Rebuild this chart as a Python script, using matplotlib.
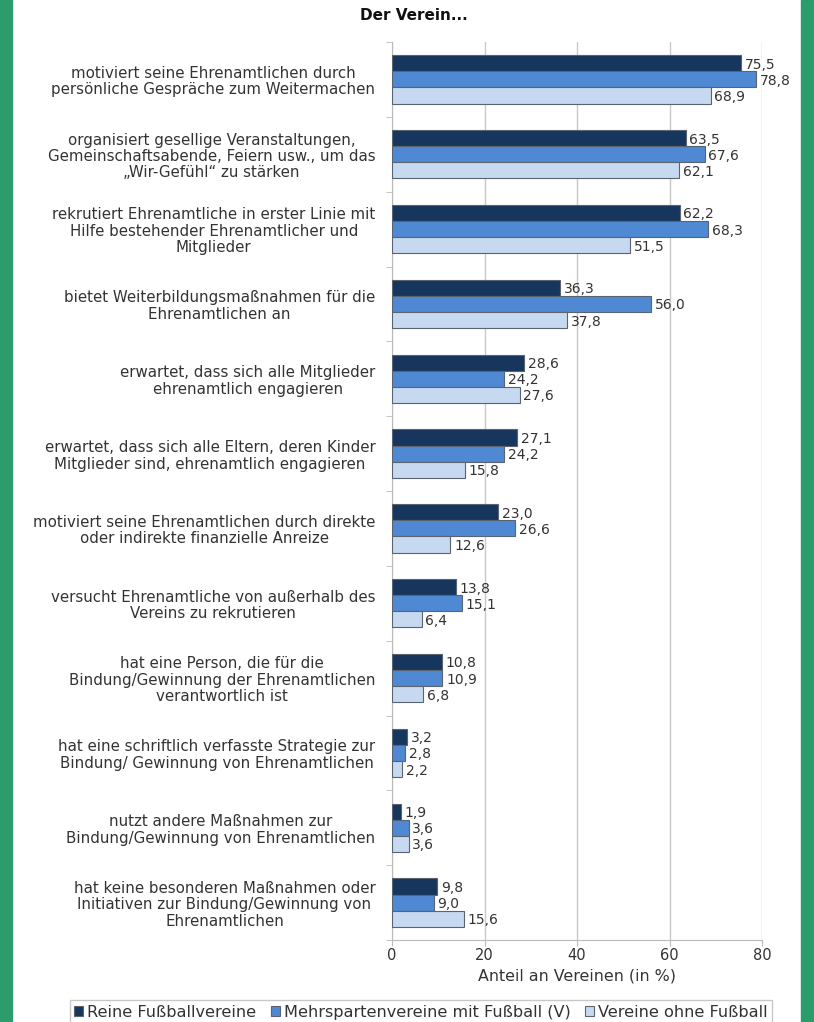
import numpy as np
import matplotlib.pyplot as plt
from matplotlib.patches import Rectangle

plt.rcParams['font.family'] = ['DejaVu Sans']

categories = [
    'motiviert seine Ehrenamtlichen durch\npersönliche Gespräche zum Weitermachen',
    'organisiert gesellige Veranstaltungen,\nGemeinschaftsabende, Feiern usw., um das\n„Wir-Gefühl“ zu stärken',
    'rekrutiert Ehrenamtliche in erster Linie mit\nHilfe bestehender Ehrenamtlicher und\nMitglieder',
    'bietet Weiterbildungsmaßnahmen für die\nEhrenamtlichen an',
    'erwartet, dass sich alle Mitglieder\nehrenamtlich engagieren',
    'erwartet, dass sich alle Eltern, deren Kinder\nMitglieder sind, ehrenamtlich engagieren',
    'motiviert seine Ehrenamtlichen durch direkte\noder indirekte finanzielle Anreize',
    'versucht Ehrenamtliche von außerhalb des\nVereins zu rekrutieren',
    'hat eine Person, die für die\nBindung/Gewinnung der Ehrenamtlichen\nverantwortlich ist',
    'hat eine schriftlich verfasste Strategie zur\nBindung/ Gewinnung von Ehrenamtlichen',
    'nutzt andere Maßnahmen zur\nBindung/Gewinnung von Ehrenamtlichen',
    'hat keine besonderen Maßnahmen oder\nInitiativen zur Bindung/Gewinnung von\nEhrenamtlichen',
]
reine = [75.5, 63.5, 62.2, 36.3, 28.6, 27.1, 23.0, 13.8, 10.8, 3.2, 1.9, 9.8]
mehrsparten = [78.8, 67.6, 68.3, 56.0, 24.2, 24.2, 26.6, 15.1, 10.9, 2.8, 3.6, 9.0]
ohne = [68.9, 62.1, 51.5, 37.8, 27.6, 15.8, 12.6, 6.4, 6.8, 2.2, 3.6, 15.6]
series_names = ['Reine Fußballvereine', 'Mehrspartenvereine mit Fußball (V)', 'Vereine ohne Fußball']
colors = ['#17365d', '#4f88d3', '#c6d9f1']

fig = plt.figure(figsize=(8.14, 10.22), dpi=100)
fig.patches.append(Rectangle((0, 0), 12 / 814, 1, transform=fig.transFigure, color='#2a9d6b', zorder=0))
fig.patches.append(Rectangle((801 / 814, 0), 13 / 814, 1, transform=fig.transFigure, color='#2a9d6b', zorder=0))

ax = fig.add_axes([392 / 814, 1 - 940 / 1022, 370 / 814, 898 / 1022])

n = len(categories)
y = np.arange(n)
h = 0.215
text_col = '#333333'
for i, (vals, col, name) in enumerate(zip([reine, mehrsparten, ohne], colors, series_names)):
    pos = y + (i - 1) * h
    ax.barh(pos, vals, height=h, color=col, edgecolor='#5a6470', linewidth=0.8, label=name, zorder=3)
    for p, v in zip(pos, vals):
        ax.text(v + 0.8, p + 0.02, f'{v:.1f}'.replace('.', ','), va='center', ha='left',
                fontsize=10, color=text_col, zorder=4)

ax.set_ylim(n - 0.5, -0.5)
ax.set_xlim(0, 80)
ax.set_xticks([0, 20, 40, 60, 80])
ax.set_yticks(y)
ax.set_yticklabels(categories, fontsize=10.8, color=text_col, linespacing=1.12)
for lbl in ax.get_yticklabels():
    lbl.set_multialignment('center')
ax.set_yticks(np.arange(n + 1) - 0.5, minor=True)
ax.tick_params(axis='y', which='major', length=0, pad=12)
ax.tick_params(axis='y', which='minor', length=4, color='#bbbbbb')
ax.tick_params(axis='x', length=4, pad=2, color='#bbbbbb', labelsize=10.5, labelcolor=text_col)
ax.grid(axis='x', color='#c8c8c8', linewidth=1.0, zorder=0)
for s in ['top', 'right']:
    ax.spines[s].set_visible(False)
for s in ['left', 'bottom']:
    ax.spines[s].set_color('#bbbbbb')
ax.set_xlabel('Anteil an Vereinen (in %)', fontsize=11.4, color=text_col, labelpad=4)

fig.text(414 / 814, 1 - 16 / 1022, 'Der Verein...', ha='center', va='center',
         fontsize=11, fontweight='bold', color='#111111')

fig.legend(loc='center', bbox_to_anchor=(421 / 814, 1 - 1012 / 1022), ncol=3,
           fontsize=11.6, frameon=True, fancybox=False, edgecolor='#bbbbbb',
           handlelength=0.55, handleheight=0.55, handletextpad=0.25, columnspacing=0.9,
           borderpad=0.3, labelcolor=text_col)

fig.savefig('out.png', dpi=100)
